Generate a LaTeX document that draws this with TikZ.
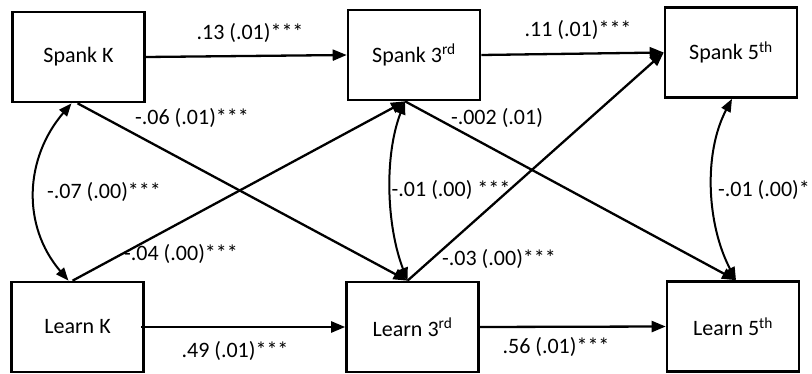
\documentclass[tikz,border=0pt]{standalone}
\usepackage{fontspec}
\setmainfont{Carlito}
\usetikzlibrary{arrows.meta}
\begin{document}
\begin{tikzpicture}[x=1pt,y=-1pt,
  box/.style={draw,line width=2.6pt,minimum width=132pt,minimum height=90pt,inner sep=0pt,font=\fontsize{22}{24}\selectfont},
  path/.style={line width=2.3pt,-{Triangle[length=14pt,width=11pt]}},
  cov/.style={line width=2pt,{Triangle[length=13pt,width=10pt]}-{Triangle[length=13pt,width=10pt]}},
  lab/.style={inner sep=0pt,font=\fontsize{22}{24}\selectfont}]
\useasboundingbox (0,0) rectangle (812,374);

% variables
\node[box] (sk) at (78.5,57)  {Spank K};
\node[box] (s3) at (414,55)   {Spank 3\textsuperscript{rd}};
\node[box] (s5) at (731,52.5) {Spank 5\textsuperscript{th}};
\node[box] (lk) at (77.5,327) {Learn K};
\node[box] (l3) at (412.5,327){Learn 3\textsuperscript{rd}};
\node[box] (l5) at (733,326.5){Learn 5\textsuperscript{th}};

% attachment points
\coordinate (skS) at ([xshift=-1pt]sk.south);
\coordinate (s3S) at ([xshift=-9pt]s3.south);
\coordinate (s5S) at ([xshift=1pt]s5.south);
\coordinate (lkN) at ([xshift=-5pt]lk.north);
\coordinate (l3N) at ([xshift=-5pt]l3.north);
\coordinate (l5N) at ([xshift=3pt]l5.north);

% autoregressive paths
\draw[path] (sk.east) -- (s3.west);
\draw[path] (s3.east) -- (s5.west);
\draw[path] ([xshift=-4pt]lk.east) -- (l3.west);
\draw[path] (l3.east) -- (l5.west);

% cross-lagged paths
\draw[path] (skS) -- (l3N);
\draw[path] (lkN) -- (s3S);
\draw[path] (s3S) -- (l5N);
\draw[path] (l3N) -- (s5.west);

% within-time covariances
\draw[cov] ([xshift=-7pt]sk.south) .. controls +(-47,55) and +(-47,-55) .. ([xshift=-9pt]lk.north);
\draw[cov] (s3S) .. controls +(-21,55) and +(-21,-55) .. (l3N);
\draw[cov] (s5S) .. controls +(-29,55) and +(-29,-55) .. (l5N);

% coefficients
\node[lab] (a1) at (250,33)  {.13 (.01)***};
\node[lab] (a2) at (578,30)  {.11 (.01)***};
\node[lab] (a3) at (235,351) {.49 (.01)***};
\node[lab] (a4) at (556,347) {.56 (.01)***};
\node[lab] (c1) at (192,118) {-.06 (.01)***};
\node[lab] (c2) at (181,254) {-.04 (.00)***};
\node[lab] (c3) at (497,118) {-.002 (.01)};
\node[lab] (c4) at (499,259) {-.03 (.00)***};
\node[lab] (r1) at (104,192) {-.07 (.00)***};
\node[lab] (r2) at (451,190) {-.01 (.00) ***};
\node[lab] (r3) at (764,190) {-.01 (.00)*};
\end{tikzpicture}
\end{document}
